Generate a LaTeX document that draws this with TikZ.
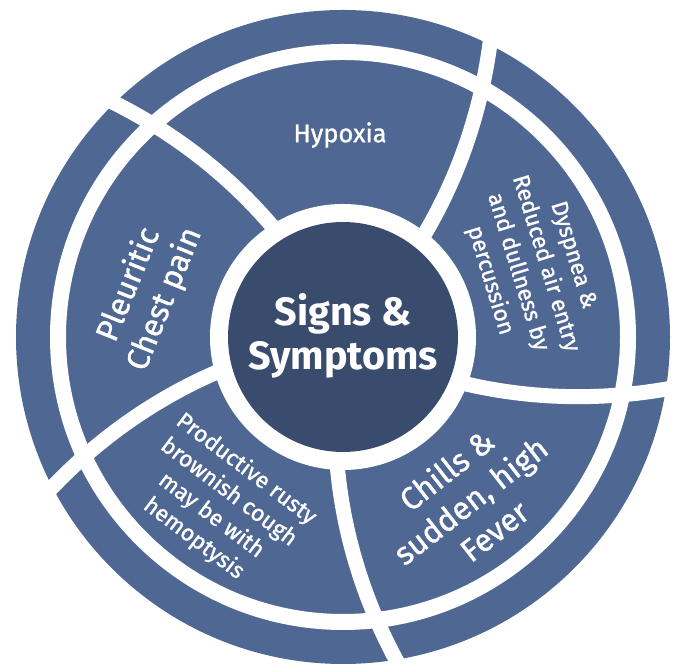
\documentclass[tikz,border=0pt]{standalone}
\usepackage{fontspec}
\setmainfont{Fira Sans}
\newfontfamily\medfont{Fira Sans}[FakeBold=1.1]
\definecolor{segblue}{HTML}{4F6893}
\definecolor{hubblue}{HTML}{3A4C6E}

\begin{document}
\begin{tikzpicture}[x=0.02cm, y=0.02cm, align=center,
  seglabel/.style={text=white, inner sep=0pt, font=\medfont\fontsize{13}{16.5}\selectfont},
  bigseglabel/.style={seglabel, font=\medfont\fontsize{18}{22}\selectfont},
  spoke/.style={white, line width=0.3cm}]
\useasboundingbox (0,0) rectangle (680,665);
\begin{scope}[shift={(343,328)}]
% outer ring and middle ring, split by a white band
\fill[segblue] (0,0) circle (327);
\draw[white, line width=0.32cm] (0,0) circle (285);
% curved spokes cutting the five segments
\foreach \a in {122.5,51.5,-21,-92.5,195.5}
  \draw[spoke] plot[domain=110:350, samples=30] ({\a+0.06*(\x-130)}:\x);
\fill[white] (0,0) circle (133);
\fill[hubblue] (0,0) circle (115);
\end{scope}
\node[text=white, font=\bfseries\fontsize{22.5}{25}\selectfont] (hub) at (343,329) {Signs \&\\Symptoms};
\node[seglabel, font=\medfont\fontsize{14.5}{17}\selectfont] (hypoxia) at (340,530) {Hypoxia};
\node[bigseglabel, rotate=68] (pleuritic) at (147,373) {Pleuritic\\Chest pain};
\node[seglabel, rotate=-73] (dyspnea) at (531,397) {Dyspnea \&\\Reduced air entry\\and dullness by\\percussion};
\node[seglabel, rotate=-37] (cough) at (220,161) {Productive rusty\\brownish cough\\may be with\\hemoptysis};
\node[bigseglabel, rotate=38] (fever) at (470,165) {Chills \&\\sudden, high\\Fever};
\end{tikzpicture}
\end{document}
